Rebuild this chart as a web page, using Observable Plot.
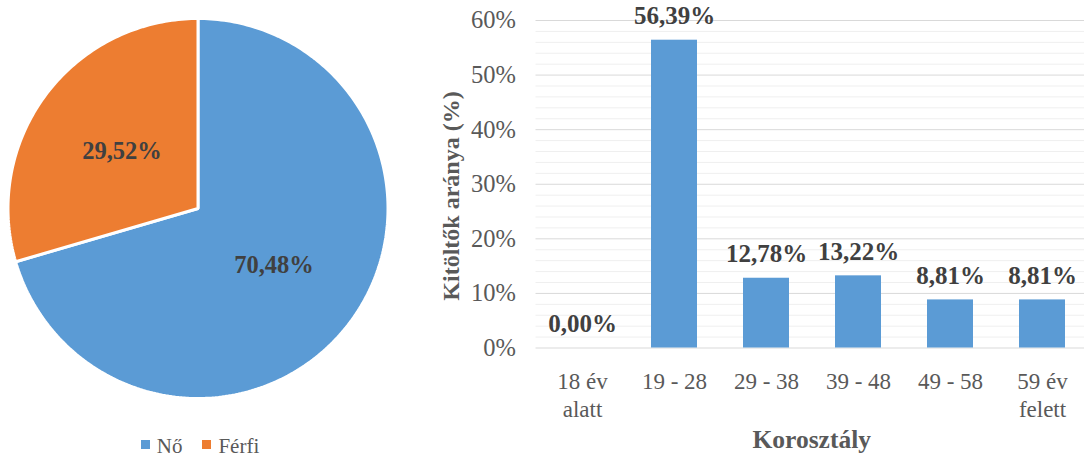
<!DOCTYPE html>
<html lang="hu">
<head>
<meta charset="utf-8">
<script src="https://cdn.jsdelivr.net/npm/d3@7"></script>
<script src="https://cdn.jsdelivr.net/npm/@observablehq/plot@0.6"></script>
<style>
  html, body { margin: 0; padding: 0; background: #fff; }
  #wrap { position: relative; width: 1084px; height: 457px; overflow: hidden; background: #fff; }
  #pie { position: absolute; left: 0; top: 0; }
  #bars { position: absolute; left: 400px; top: 0; }
  #legend {
    position: absolute; left: 0; top: 438px; width: 400px; text-align: center;
    font: 21px/16px "Liberation Serif", "Times New Roman", serif; color: #595959; white-space: nowrap;
  }
  #legend .item { display: inline-block; margin: 0 10px; }
  #legend .sw { display: inline-block; width: 9px; height: 9px; margin-right: 7px; position: relative; top: -4px; }
</style>
</head>
<body>
<div id="wrap">
  <div id="pie"></div>
  <div id="legend"></div>
  <div id="bars"></div>
</div>
<script>
// Gender split (pie)
const genders = ["Nő", "Férfi"];
const genderShares = [70.48, 29.52];
const genderColors = ["#5B9BD5", "#ED7D31"];

// Age groups (bars)
const ageGroups = ["18 év\nalatt", "19 - 28", "29 - 38", "39 - 48", "49 - 58", "59 év\nfelett"];
const ageShares = [0.00, 56.39, 12.78, 13.22, 8.81, 8.81];

// Axis ticks and titles
const majorTicks = [0, 10, 20, 30, 40, 50, 60];
const minorTicks = d3.range(0, 61, 2).filter(d => d % 10 !== 0);
const xTitle = "Korosztály";
const yTitle = "Kitöltők aránya (%)";

const serif = "'Liberation Serif', 'Times New Roman', serif";
const fmtPct = v => v.toFixed(2).replace(".", ",") + "%";

// ---- Pie: slices as closed polygons on unit x/y scales ----
const arcs = d3.pie().sort(null)(genderShares);
const slicePoints = [];
const sliceLabels = [];
arcs.forEach((a, i) => {
  const g = genders[i];
  slicePoints.push({g, x: 0, y: 0});
  const n = Math.max(2, Math.ceil((a.endAngle - a.startAngle) / (Math.PI / 180)));
  for (let k = 0; k <= n; ++k) {
    const t = a.startAngle + (a.endAngle - a.startAngle) * k / n;
    slicePoints.push({g, x: Math.sin(t), y: Math.cos(t)});
  }
  const mid = (a.startAngle + a.endAngle) / 2;
  sliceLabels.push({g, x: 0.5 * Math.sin(mid), y: 0.5 * Math.cos(mid), text: fmtPct(genderShares[i])});
});

const pie = Plot.plot({
  width: 400,
  height: 420,
  margin: 0,
  style: {background: "transparent", fontFamily: serif},
  x: {domain: [-1, 1], range: [7.5, 387.5], axis: null},
  y: {domain: [-1, 1], range: [398, 18], axis: null},
  color: {domain: genders, range: genderColors},
  marks: [
    Plot.line(slicePoints, {x: "x", y: "y", z: "g", fill: "g", stroke: "white", strokeWidth: 3,
      strokeLinejoin: "miter", curve: "linear-closed"}),
    Plot.text(sliceLabels, {x: "x", y: "y", text: "text", fontSize: 24.5, fontWeight: "bold", fill: "#404040"})
  ]
});
document.getElementById("pie").append(pie);

// Legend below the pie
const legend = document.getElementById("legend");
genders.forEach((g, i) => {
  const item = document.createElement("span");
  item.className = "item";
  const sw = document.createElement("span");
  sw.className = "sw";
  sw.style.background = genderColors[i];
  item.append(sw, document.createTextNode(g));
  legend.append(item);
});

// ---- Bars ----
const rows = ageGroups.map((c, i) => ({cat: c, value: ageShares[i]}));

const bars = Plot.plot({
  width: 684,
  height: 457,
  marginLeft: 135.5,
  marginRight: 0,
  marginTop: 20,
  marginBottom: 109.5,
  style: {background: "transparent", fontFamily: serif, fontSize: "23px", overflow: "visible"},
  x: {domain: ageGroups, range: [135.5, 689.3], paddingInner: 0.5, paddingOuter: 0.25},
  y: {domain: [0, 60]},
  marks: [
    Plot.ruleY(minorTicks, {stroke: "#EFEFEF", strokeWidth: 1}),
    Plot.ruleY(majorTicks, {stroke: "#D9D9D9", strokeWidth: 1}),
    Plot.barY(rows, {x: "cat", y: "value", fill: "#5B9BD5"}),
    Plot.text(rows, {x: "cat", y: "value", text: d => fmtPct(d.value), fontSize: 25, fontWeight: "bold",
      fill: "#404040", lineAnchor: "middle", dy: -24}),
    Plot.axisY(majorTicks, {tickSize: 0, tickPadding: 20, tickFormat: d => d + "%", color: "#595959",
      fontSize: 24.5, label: null}),
    Plot.axisX({tickSize: 0, tickPadding: 21, color: "#595959", fontSize: 23, lineHeight: 1.22, label: null}),
    Plot.text([xTitle], {frameAnchor: "bottom", textAnchor: "middle", lineAnchor: "middle", dx: 1.5, dy: 92.3,
      fontSize: 25.5, fontWeight: "bold", fill: "#595959", letterSpacing: "0.3px"}),
    Plot.text([yTitle], {frameAnchor: "left", textAnchor: "middle", lineAnchor: "middle", dx: -85, dy: 11.75,
      rotate: -90, fontSize: 24, fontWeight: "bold", fill: "#595959"})
  ]
});
document.getElementById("bars").append(bars);
</script>
</body>
</html>
